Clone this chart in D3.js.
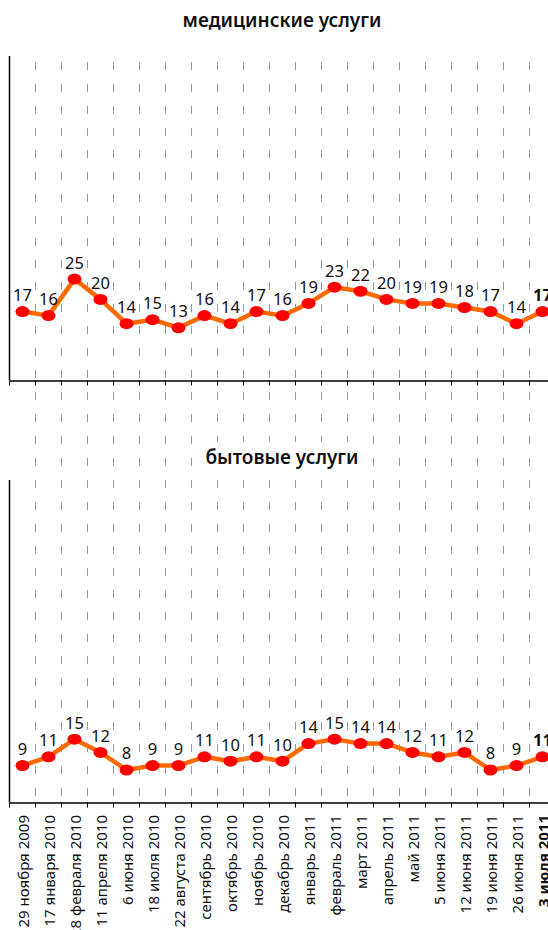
<!DOCTYPE html>
<html><head><meta charset="utf-8">
<script src="https://cdn.jsdelivr.net/npm/d3@7"></script>
<style>
html,body{margin:0;padding:0;background:#fff;overflow:hidden}
text{font-family:"Noto Sans",sans-serif}
</style></head>
<body><svg id="c" width="548" height="930"></svg>
<script>
const categories = ["29 ноября 2009","17 января 2010","28 февраля 2010","11 апреля 2010","6 июня 2010","18 июля 2010","22 августа 2010","сентябрь 2010","октябрь 2010","ноябрь 2010","декабрь 2010","январь 2011","февраль 2011","март 2011","апрель 2011","май 2011","5 июня 2011","12 июня 2011","19 июня 2011","26 июня 2011","3 июля 2011"];
const medical = [17,16,25,20,14,15,13,16,14,17,16,19,23,22,20,19,19,18,17,14,17];
const household = [9,11,15,12,8,9,9,11,10,11,10,14,15,14,14,12,11,12,8,9,11];
const titles = ["медицинские услуги","бытовые услуги"];

const svg = d3.select("#c");
const x = d3.scaleBand().domain(categories).range([9.5, 555.5]).paddingInner(0).paddingOuter(0);
const step = x.step();
const last = categories[categories.length-1];

const panels = [
  {title: titles[0], data: medical, top: 56, bottom: 380.5, domain:[0,80], titleY: 27},
  {title: titles[1], data: household, top: 480, bottom: 802.5, domain:[0.6,74], titleY: 464}
];

// grid lines (category boundaries)
const bounds = categories.slice(1).map(c => x(c));
svg.append("g").selectAll("line").data(bounds).join("line")
  .attr("x1", d => d).attr("x2", d => d)
  .attr("y1", 62).attr("y2", 800)
  .attr("stroke", "#999").attr("stroke-width", 1)
  .attr("stroke-dasharray", "8,14");

panels.forEach(p => {
  const y = d3.scaleLinear().domain(p.domain).range([p.bottom, p.top]);
  const g = svg.append("g");
  const t = g.append("text").attr("x", 282).attr("y", p.titleY)
    .attr("text-anchor", "middle").attr("font-size", 19).attr("font-weight", 600)
    .attr("fill", "#111").text(p.title);
  const bb = t.node().getBBox();
  g.insert("rect", "text").attr("x", bb.x - 6).attr("y", bb.y - 2)
    .attr("width", bb.width + 12).attr("height", bb.height + 4).attr("fill", "#fff");

  g.append("line").attr("x1", 9.5).attr("x2", 9.5).attr("y1", p.top).attr("y2", p.bottom)
    .attr("stroke", "#000").attr("stroke-width", 1.5);
  const xa = d3.axisBottom(x).tickValues([]).tickSizeOuter(0);
  const ag = g.append("g").attr("transform", `translate(0,${p.bottom})`).call(xa);
  ag.select(".domain").attr("stroke", "#000").attr("stroke-width", 1.5);
  ag.selectAll(".tk").data([9.5].concat(bounds)).join("line").attr("class","tk")
    .attr("x1", d => d).attr("x2", d => d).attr("y1", 0).attr("y2", 5)
    .attr("stroke", "#000").attr("stroke-width", 1);

  const cx = c => x(c) + step/2;
  const pts = categories.map((c,i) => ({c, v: p.data[i]}));
  g.append("path").datum(pts)
    .attr("d", d3.line().x(d => cx(d.c)).y(d => y(d.v)))
    .attr("fill", "none").attr("stroke", "#ff6a00").attr("stroke-width", 4.5)
    .attr("stroke-linejoin", "round");
  g.selectAll("ellipse").data(pts).join("ellipse")
    .attr("cx", d => cx(d.c)).attr("cy", d => y(d.v))
    .attr("rx", 7).attr("ry", 5.5).attr("fill", "#ff0000");
  g.selectAll(".lbl").data(pts).join("text").attr("class","lbl")
    .attr("x", d => cx(d.c)).attr("y", d => y(d.v) - 10.5)
    .attr("text-anchor", "middle").attr("font-size", 16.5)
    .attr("font-weight", d => d.c === last ? "bold" : "normal")
    .attr("fill", "#111").text(d => d.v);
});

svg.append("g").selectAll("text").data(categories).join("text")
  .attr("transform", d => `translate(${x(d) + step/2 + 1.5},815) rotate(-90)`)
  .attr("text-anchor", "end").attr("dy", "0.35em").attr("font-size", 15)
  .attr("font-weight", d => d === last ? "bold" : "normal")
  .attr("fill", "#111").text(d => d);
</script></body></html>
